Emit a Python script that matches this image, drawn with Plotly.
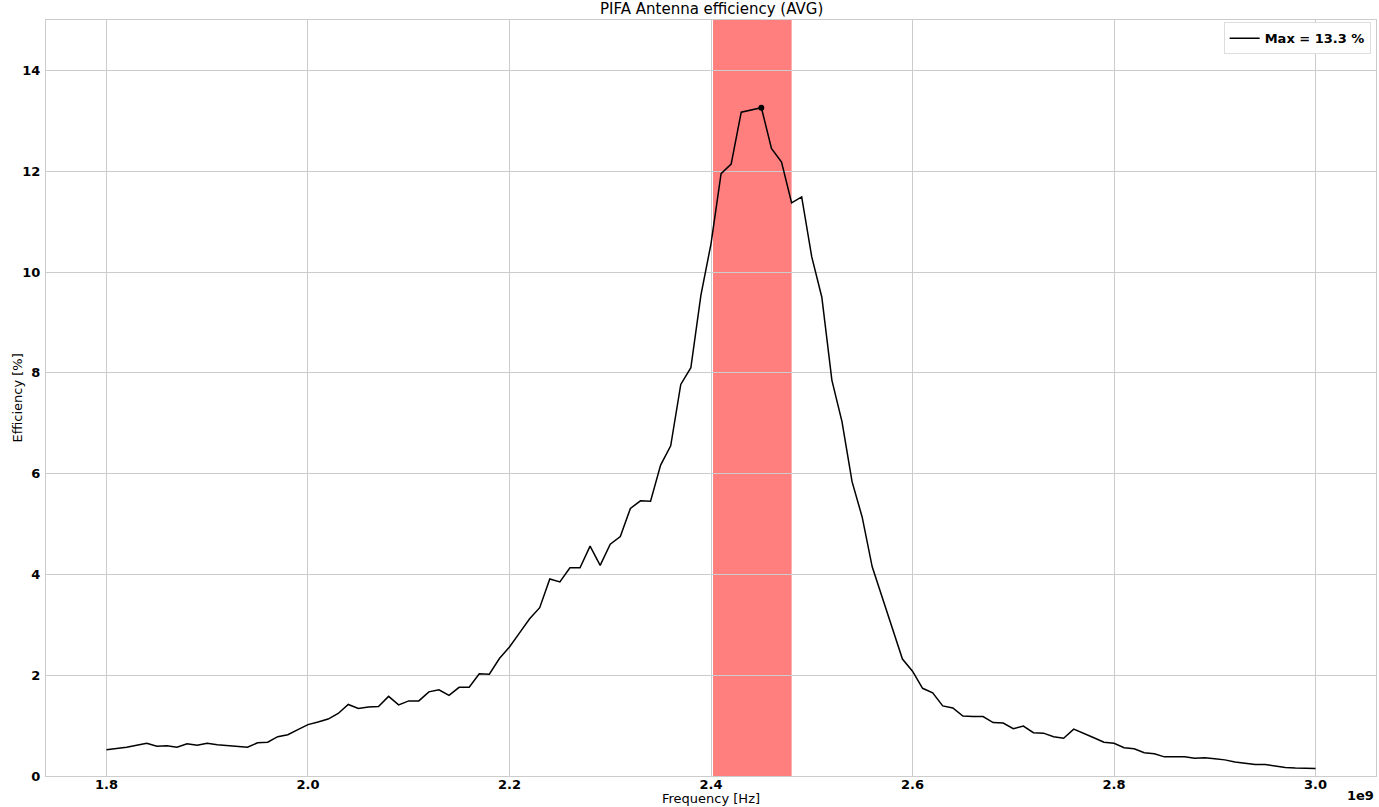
import plotly.graph_objects as go

# measured antenna efficiency, 1.8 - 3.0 GHz in 10 MHz steps
freq_ghz = [round(1.8 + 0.01 * i, 2) for i in range(121)]
freq_hz = [f * 1e9 for f in freq_ghz]

efficiency = [
    0.52, 0.54, 0.57, 0.61, 0.65, 0.59, 0.60, 0.57, 0.64, 0.61,
    0.65, 0.62, 0.60, 0.59, 0.57, 0.66, 0.67, 0.78, 0.82, 0.92,
    1.02, 1.07, 1.13, 1.24, 1.42, 1.34, 1.37, 1.38, 1.58, 1.41,
    1.49, 1.49, 1.67, 1.71, 1.60, 1.76, 1.76, 2.03, 2.02, 2.33,
    2.56, 2.84, 3.12, 3.34, 3.91, 3.85, 4.13, 4.13, 4.56, 4.18,
    4.60, 4.75, 5.31, 5.46, 5.45, 6.17, 6.55, 7.77, 8.10, 9.54,
    10.56, 11.95, 12.14, 13.17, 13.22, 13.26, 12.45, 12.18, 11.37, 11.49,
    10.30, 9.50, 7.85, 7.03, 5.84, 5.14, 4.15, 3.55, 2.95, 2.32,
    2.08, 1.74, 1.65, 1.39, 1.35, 1.19, 1.18, 1.18, 1.06, 1.05,
    0.94, 0.99, 0.86, 0.85, 0.78, 0.75, 0.93, 0.85, 0.76, 0.67,
    0.65, 0.56, 0.54, 0.46, 0.44, 0.38, 0.38, 0.38, 0.35, 0.36,
    0.34, 0.32, 0.28, 0.26, 0.23, 0.23, 0.20, 0.17, 0.16, 0.15,
    0.15,
]

band_hz = [2.402e9, 2.480e9]  # 2.4 GHz ISM band

x_ticks = [1.8, 2.0, 2.2, 2.4, 2.6, 2.8, 3.0]
y_ticks = [0, 2, 4, 6, 8, 10, 12, 14]

i_max = efficiency.index(max(efficiency))
max_label = "Max = %.1f %%" % efficiency[i_max]

font = "DejaVu Sans"

fig = go.Figure()

fig.add_trace(go.Scatter(
    x=freq_hz, y=efficiency, mode="lines",
    line=dict(color="black", width=1.5),
    name="<b>" + max_label + "</b>",
))
fig.add_trace(go.Scatter(
    x=[freq_hz[i_max]], y=[efficiency[i_max]], mode="markers",
    marker=dict(color="black", size=6),
    showlegend=False,
))

fig.add_shape(type="rect", xref="x", yref="paper",
              x0=band_hz[0], x1=band_hz[1], y0=0, y1=1,
              fillcolor="rgba(255,0,0,0.5)", line_width=0, layer="below")

fig.update_layout(
    width=1379, height=807,
    margin=dict(l=46, r=3, t=20, b=31),
    paper_bgcolor="white", plot_bgcolor="white",
    font=dict(family=font, size=13, color="black"),
    showlegend=True,
    legend=dict(x=0.996, y=0.997, xanchor="right", yanchor="top",
                bgcolor="white", bordercolor="#dddddd", borderwidth=1,
                font=dict(family=font, size=13, color="black")),
    xaxis=dict(
        range=[1.74e9, 3.06e9],
        tickvals=[t * 1e9 for t in x_ticks],
        ticktext=["<b>%.1f</b>" % t for t in x_ticks],
        showgrid=True, gridcolor="#cccccc", gridwidth=1,
        zeroline=False, showline=True, linecolor="#cccccc", mirror=True,
        ticks="", tickfont=dict(size=13), ticklabelstandoff=-4,
    ),
    yaxis=dict(
        range=[0, 15],
        tickvals=y_ticks,
        ticktext=["<b>%d</b>" % t for t in y_ticks],
        showgrid=True, gridcolor="#cccccc", gridwidth=1,
        zeroline=False, showline=True, linecolor="#cccccc", mirror=True,
        ticks="", tickfont=dict(size=13), ticklabelstandoff=2,
    ),
    annotations=[
        dict(text="PIFA Antenna efficiency (AVG)", x=0.5, y=1, xref="paper", yref="paper",
             xanchor="center", yanchor="bottom", yshift=0, showarrow=False,
             font=dict(size=15)),
        dict(text="Frequency [Hz]", x=0.5, y=0, xref="paper", yref="paper",
             xanchor="center", yanchor="top", yshift=-13, showarrow=False,
             font=dict(size=13)),
        dict(text="Efficiency [%]", x=0, y=0.5, xref="paper", yref="paper",
             xanchor="right", yanchor="middle", xshift=-20, textangle=-90,
             showarrow=False, font=dict(size=13)),
        dict(text="<b>1e9</b>", x=1, y=0, xref="paper", yref="paper",
             xanchor="right", yanchor="top", yshift=-10, showarrow=False,
             font=dict(size=13)),
    ],
)

fig.write_html("out.html", config={"displayModeBar": False},
               post_script="document.body.style.margin='0px';")
